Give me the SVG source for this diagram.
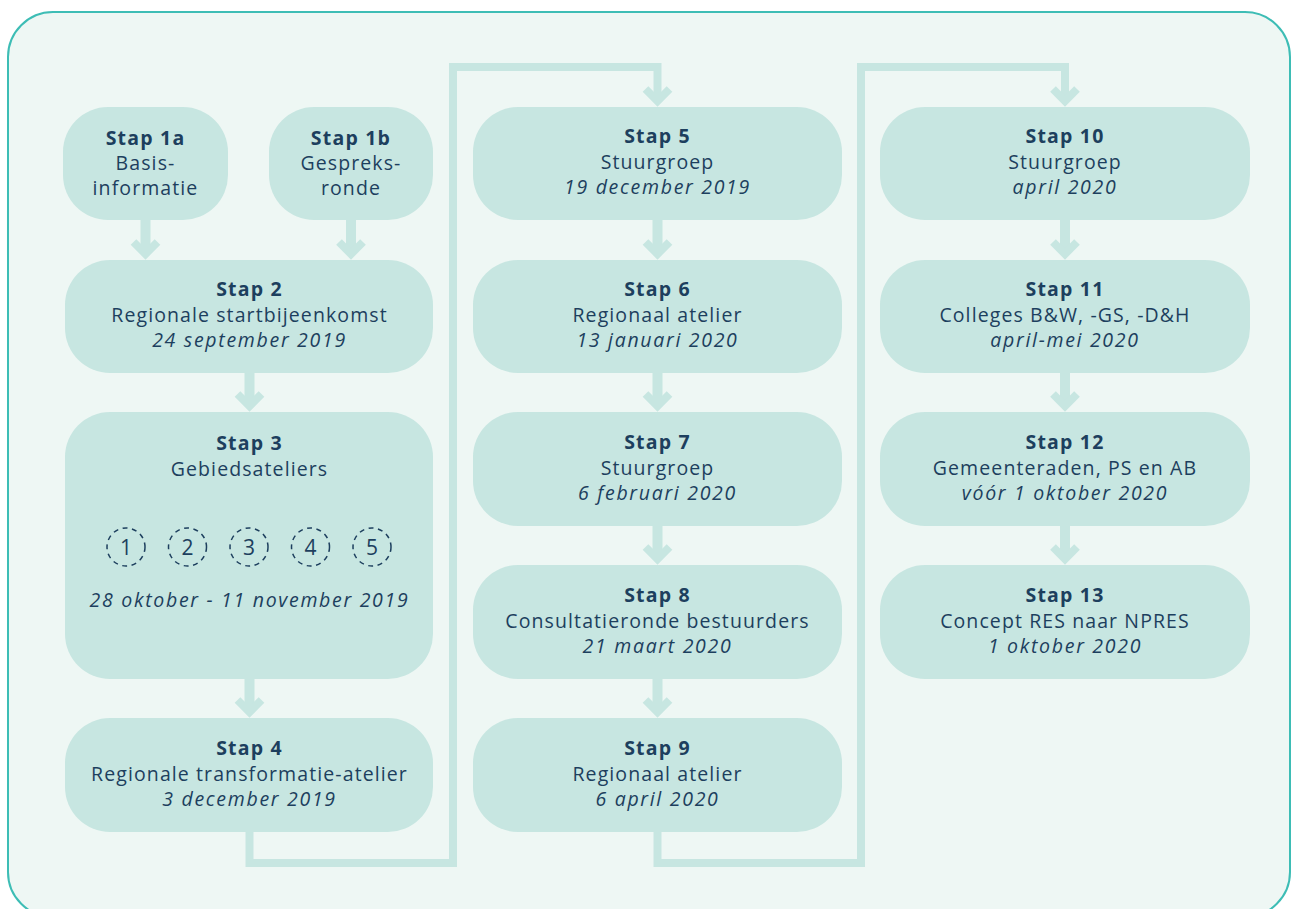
<svg xmlns="http://www.w3.org/2000/svg" width="1291" height="909" viewBox="0 0 1291 909">
<style>
.bg{fill:#eef7f4;stroke:#3dbdb5;stroke-width:2}
.nd{fill:#c7e6e1}
.t{font-family:"Open Sans","Noto Sans","Liberation Sans",sans-serif;font-size:19.5px;letter-spacing:1.1px;fill:#1d3f5e;text-anchor:middle}
.b{font-weight:bold;letter-spacing:1.2px}
.i{font-style:italic;letter-spacing:1.7px}
.cn{fill:none;stroke:#c7e6e1;stroke-width:8;stroke-linejoin:miter}
.sh{fill:none;stroke:#c7e6e1;stroke-width:10}
.hd{fill:none;stroke:#c7e6e1;stroke-width:8;stroke-linejoin:miter;stroke-miterlimit:10}
.c{fill:none;stroke:#1d3f5e;stroke-width:1.5;stroke-dasharray:5 4.5}
.n{font-family:"Open Sans","Noto Sans","Liberation Sans",sans-serif;font-size:21px;fill:#1d3f5e;text-anchor:middle}
</style>
<rect class="bg" x="8" y="12" width="1282" height="905" rx="45" ry="45"/>
<g id="connectors">
<polyline class="cn" points="249.5,832 249.5,863 453,863 453,67 657.5,67 657.5,100"/>
<polyline class="cn" points="657.5,832 657.5,863 861,863 861,67 1065,67 1065,100"/>
<polyline class="hd" points="645.5,89 657.5,101 669.5,89"/>
<polyline class="hd" points="1053,89 1065,101 1077,89"/>
<g>
<line class="sh" x1="145.5" y1="220" x2="145.5" y2="253"/><polyline class="hd" points="133.5,242 145.5,254 157.5,242"/>
<line class="sh" x1="351" y1="220" x2="351" y2="253"/><polyline class="hd" points="339,242 351,254 363,242"/>
<line class="sh" x1="249.5" y1="373" x2="249.5" y2="405"/><polyline class="hd" points="237.5,394 249.5,406 261.5,394"/>
<line class="sh" x1="249.5" y1="679" x2="249.5" y2="711"/><polyline class="hd" points="237.5,700 249.5,712 261.5,700"/>
<line class="sh" x1="657.5" y1="220" x2="657.5" y2="253"/><polyline class="hd" points="645.5,242 657.5,254 669.5,242"/>
<line class="sh" x1="657.5" y1="373" x2="657.5" y2="405"/><polyline class="hd" points="645.5,394 657.5,406 669.5,394"/>
<line class="sh" x1="657.5" y1="526" x2="657.5" y2="558"/><polyline class="hd" points="645.5,547 657.5,559 669.5,547"/>
<line class="sh" x1="657.5" y1="679" x2="657.5" y2="711"/><polyline class="hd" points="645.5,700 657.5,712 669.5,700"/>
<line class="sh" x1="1065" y1="220" x2="1065" y2="253"/><polyline class="hd" points="1053,242 1065,254 1077,242"/>
<line class="sh" x1="1065" y1="373" x2="1065" y2="405"/><polyline class="hd" points="1053,394 1065,406 1077,394"/>
<line class="sh" x1="1065" y1="526" x2="1065" y2="558"/><polyline class="hd" points="1053,547 1065,559 1077,547"/>
</g>
</g>
<g id="stap1a"><rect class="nd" x="63" y="107" width="165" height="113" rx="45"/>
<text class="t b" x="145.5" y="145">Stap 1a</text><text class="t" x="145.5" y="170">Basis-</text><text class="t" x="145.5" y="195">informatie</text></g>
<g id="stap1b"><rect class="nd" x="269" y="107" width="164" height="113" rx="45"/>
<text class="t b" x="351" y="145">Stap 1b</text><text class="t" x="351" y="170">Gespreks-</text><text class="t" x="351" y="195">ronde</text></g>
<g id="stap2"><rect class="nd" x="65" y="260" width="368" height="113" rx="45"/>
<text class="t b" x="249.5" y="296">Stap 2</text><text class="t" x="249.5" y="322">Regionale startbijeenkomst</text><text class="t i" x="249.5" y="347">24 september 2019</text></g>
<g id="stap3"><rect class="nd" x="65" y="412" width="368" height="267" rx="45"/>
<text class="t b" x="249.5" y="450">Stap 3</text><text class="t" x="249.5" y="476">Gebiedsateliers</text>
<circle class="c" cx="126" cy="547" r="19"/><text class="n" x="126" y="554.5">1</text>
<circle class="c" cx="187.5" cy="547" r="19"/><text class="n" x="187.5" y="554.5">2</text>
<circle class="c" cx="249" cy="547" r="19"/><text class="n" x="249" y="554.5">3</text>
<circle class="c" cx="310.5" cy="547" r="19"/><text class="n" x="310.5" y="554.5">4</text>
<circle class="c" cx="372" cy="547" r="19"/><text class="n" x="372" y="554.5">5</text>
<text class="t i" x="249.5" y="607">28 oktober - 11 november 2019</text></g>
<g id="stap4"><rect class="nd" x="65" y="718" width="368" height="114" rx="45"/>
<text class="t b" x="249.5" y="755">Stap 4</text><text class="t" x="249.5" y="781">Regionale transformatie-atelier</text><text class="t i" x="249.5" y="806">3 december 2019</text></g>
<g id="stap5"><rect class="nd" x="473" y="107" width="369" height="113" rx="45"/>
<text class="t b" x="657.5" y="143">Stap 5</text><text class="t" x="657.5" y="169">Stuurgroep</text><text class="t i" x="657.5" y="194">19 december 2019</text></g>
<g id="stap6"><rect class="nd" x="473" y="260" width="369" height="113" rx="45"/>
<text class="t b" x="657.5" y="296">Stap 6</text><text class="t" x="657.5" y="322">Regionaal atelier</text><text class="t i" x="657.5" y="347">13 januari 2020</text></g>
<g id="stap7"><rect class="nd" x="473" y="412" width="369" height="114" rx="45"/>
<text class="t b" x="657.5" y="449">Stap 7</text><text class="t" x="657.5" y="475">Stuurgroep</text><text class="t i" x="657.5" y="500">6 februari 2020</text></g>
<g id="stap8"><rect class="nd" x="473" y="565" width="369" height="114" rx="45"/>
<text class="t b" x="657.5" y="602">Stap 8</text><text class="t" x="657.5" y="628">Consultatieronde bestuurders</text><text class="t i" x="657.5" y="653">21 maart 2020</text></g>
<g id="stap9"><rect class="nd" x="473" y="718" width="369" height="114" rx="45"/>
<text class="t b" x="657.5" y="755">Stap 9</text><text class="t" x="657.5" y="781">Regionaal atelier</text><text class="t i" x="657.5" y="806">6 april 2020</text></g>
<g id="stap10"><rect class="nd" x="880" y="107" width="370" height="113" rx="45"/>
<text class="t b" x="1065" y="143">Stap 10</text><text class="t" x="1065" y="169">Stuurgroep</text><text class="t i" x="1065" y="194">april 2020</text></g>
<g id="stap11"><rect class="nd" x="880" y="260" width="370" height="113" rx="45"/>
<text class="t b" x="1065" y="296">Stap 11</text><text class="t" x="1065" y="322">Colleges B&amp;W, -GS, -D&amp;H</text><text class="t i" x="1065" y="347">april-mei 2020</text></g>
<g id="stap12"><rect class="nd" x="880" y="412" width="370" height="114" rx="45"/>
<text class="t b" x="1065" y="449">Stap 12</text><text class="t" x="1065" y="475">Gemeenteraden, PS en AB</text><text class="t i" x="1065" y="500">vóór 1 oktober 2020</text></g>
<g id="stap13"><rect class="nd" x="880" y="565" width="370" height="114" rx="45"/>
<text class="t b" x="1065" y="602">Stap 13</text><text class="t" x="1065" y="628">Concept RES naar NPRES</text><text class="t i" x="1065" y="653">1 oktober 2020</text></g>
</svg>
